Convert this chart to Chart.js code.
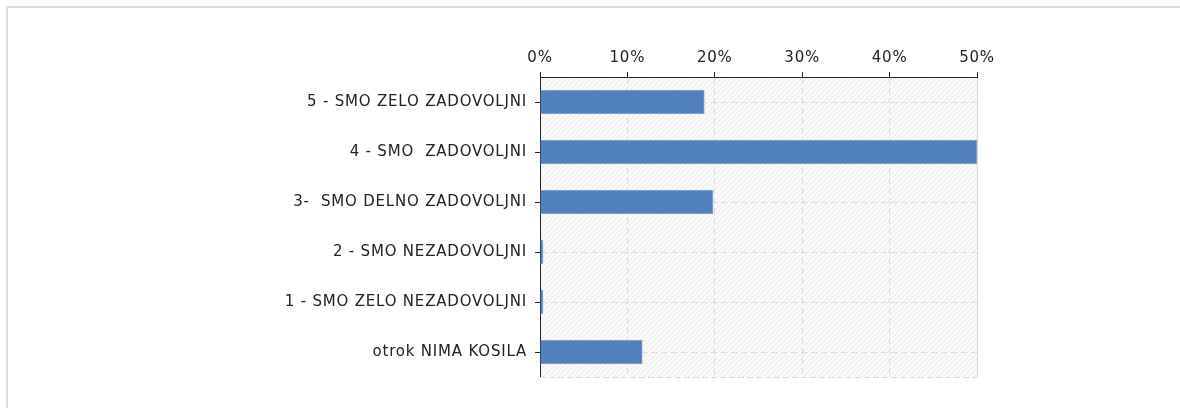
<!DOCTYPE html>
<html>
<head>
<meta charset="utf-8">
<script src="https://cdn.jsdelivr.net/npm/chart.js@4/dist/chart.umd.min.js"></script>
<style>
  html, body { margin: 0; padding: 0; background: #fff; }
  #frame {
    position: absolute; left: 6px; top: 6px; width: 1200px; height: 420px;
    border-left: 2px solid #dcdcdc; border-top: 2px solid #dcdcdc;
  }
  #wrap { position: absolute; left: 0; top: 0; width: 1180px; height: 408px; }
</style>
</head>
<body>
<div id="frame"></div>
<div id="wrap"><canvas id="odgovori"></canvas></div>
<script>
// Kategorije in deleži (v %)
const categories = [
  "5 - SMO ZELO ZADOVOLJNI",
  "4 - SMO  ZADOVOLJNI",
  "3-  SMO DELNO ZADOVOLJNI",
  "2 - SMO NEZADOVOLJNI",
  "1 - SMO ZELO NEZADOVOLJNI",
  "otrok NIMA KOSILA",
];
const shares = [18.8, 50, 19.8, 0, 0, 11.7];
const xTicks = [0, 10, 20, 30, 40, 50];

// šrafirano ozadje
const hatch = document.createElement("canvas");
hatch.width = 5;
hatch.height = 5;
const hc = hatch.getContext("2d");
hc.fillStyle = "#fafafa";
hc.fillRect(0, 0, 5, 5);
hc.strokeStyle = "#e8e8e8";
hc.lineWidth = 1;
hc.beginPath();
hc.moveTo(0, 5); hc.lineTo(5, 0);
hc.moveTo(-2.5, 2.5); hc.lineTo(2.5, -2.5);
hc.moveTo(2.5, 7.5); hc.lineTo(7.5, 2.5);
hc.stroke();

const bgPlugin = {
  id: "bgPlugin",
  beforeDraw(chart) {
    const { ctx, chartArea: a } = chart;
    ctx.letterSpacing = "0.8px";
    ctx.save();
    ctx.fillStyle = ctx.createPattern(hatch, "repeat");
    ctx.fillRect(a.left, a.top, a.right - a.left, a.bottom - a.top);
    ctx.restore();
  },
  afterDatasetsDraw(chart) {
    const { ctx, chartArea: a } = chart;
    ctx.save();
    ctx.strokeStyle = "#dadada";
    ctx.lineWidth = 1;
    ctx.setLineDash([6, 3]);
    ctx.beginPath();
    ctx.moveTo(a.left, a.bottom + 0.5);
    ctx.lineTo(a.right, a.bottom + 0.5);
    ctx.stroke();
    ctx.restore();
  },
};

Chart.defaults.font.family = "'DejaVu Sans', Verdana, sans-serif";
Chart.defaults.font.size = 15;
Chart.defaults.color = "#222";

new Chart(document.getElementById("odgovori"), {
  type: "bar",
  data: {
    labels: categories,
    datasets: [
      {
        data: shares,
        backgroundColor: "#4f81bd",
        borderColor: "#8eaed6",
        borderWidth: 1,
        borderSkipped: "start",
        barThickness: 24,
        minBarLength: 3,
      },
    ],
  },
  options: {
    indexAxis: "y",
    responsive: true,
    maintainAspectRatio: false,
    animation: false,
    layout: { padding: { left: 0, right: 203, top: 0, bottom: 31 } },
    plugins: { legend: { display: false }, tooltip: { enabled: false } },
    scales: {
      x: {
        position: "top",
        min: 0,
        max: 50,
        afterFit: (s) => { s.height = 77; },
        afterBuildTicks: (s) => { s.ticks = xTicks.map((v) => ({ value: v })); },
        ticks: { callback: (v) => v + "%", padding: 5, maxRotation: 0 },
        grid: {
          color: (c) => (c.index === 5 ? "#d4d4d4" : "#dcdcdc"),
          tickColor: "#222",
          tickLength: 5,
          tickBorderDash: [],
        },
        border: {
          display: true,
          color: "#222",
          width: 1,
          dash: (c) => (c.index === 5 ? [] : [6, 4]),
        },
      },
      y: {
        afterFit: (s) => { s.width = 540; },
        ticks: { padding: 8 },
        grid: {
          offset: false,
          color: "#dcdcdc",
          tickColor: "#222",
          tickLength: 5,
          tickBorderDash: [],
        },
        border: { display: true, color: "#222", width: 1, dash: [6, 4] },
      },
    },
  },
  plugins: [bgPlugin],
});
</script>
</body>
</html>
